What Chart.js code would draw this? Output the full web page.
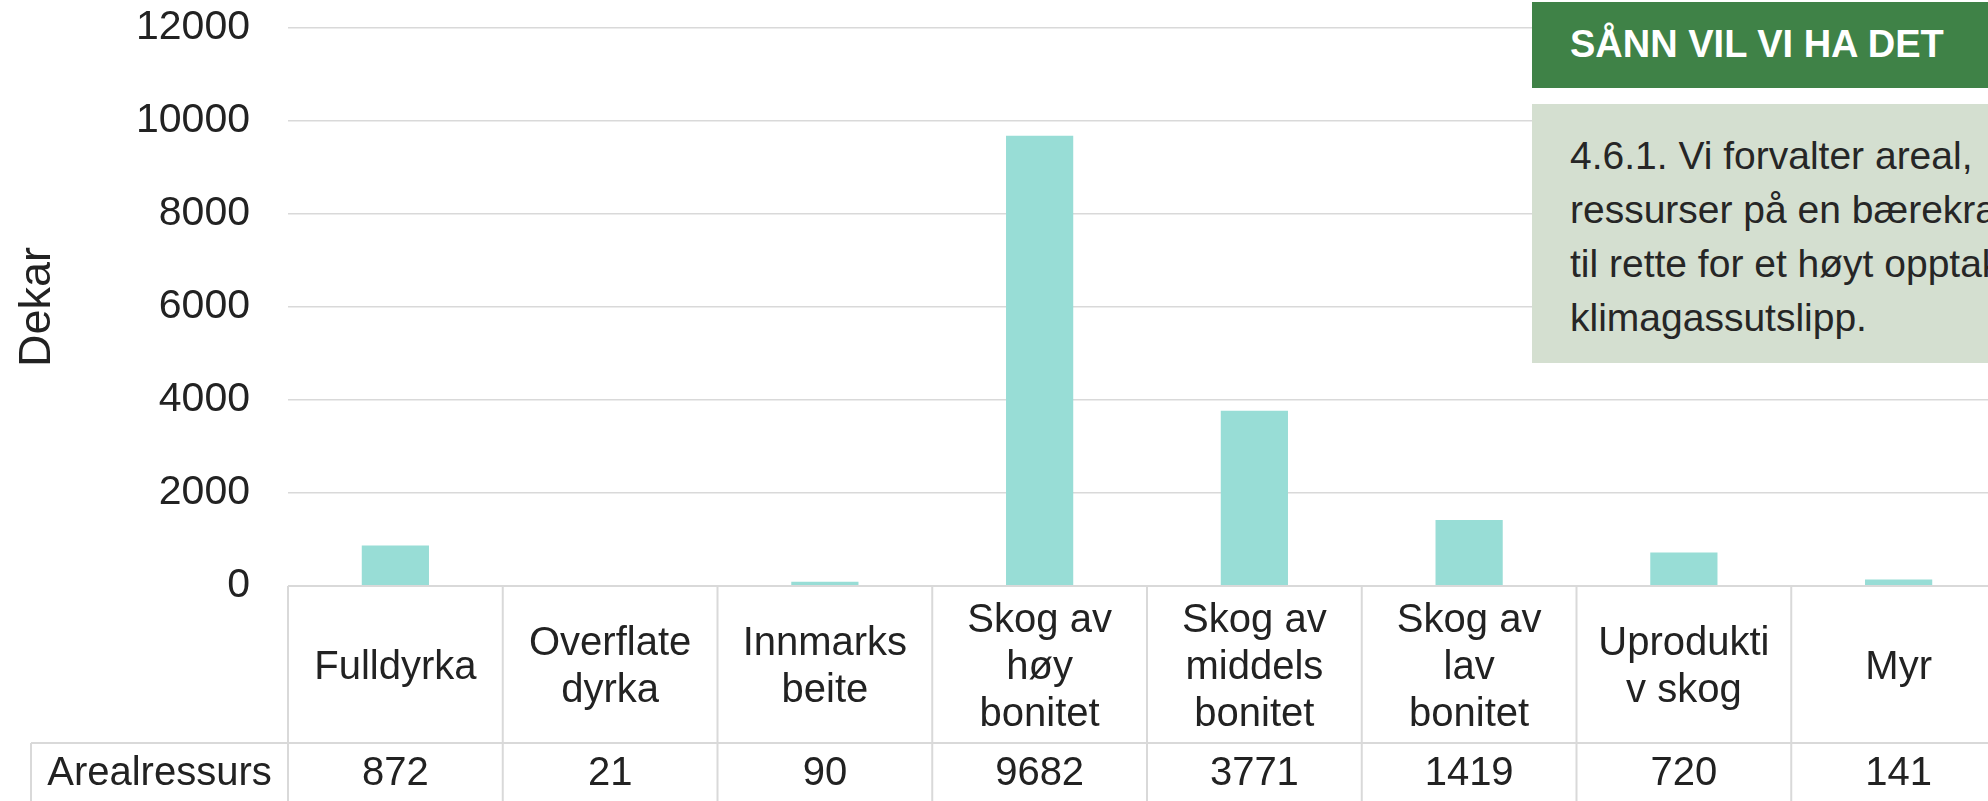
<!DOCTYPE html>
<html>
<head>
<meta charset="utf-8">
<script src="https://cdn.jsdelivr.net/npm/chart.js@4.4.1/dist/chart.umd.min.js"></script>
<style>
    html, body { margin: 0; padding: 0; background: #fff; }
    body { width: 1988px; height: 801px; overflow: hidden; position: relative; font-family: 'Liberation Sans', Arial, sans-serif; }
    #wrap { position: absolute; left: 0; top: 0; width: 2030px; height: 810px; }
    .head-box {
        position: absolute; left: 1532px; top: 2px; width: 600px; height: 86px;
        background: #3f8247; color: #fff; font-weight: bold; font-size: 38px;
        line-height: 84px; padding-left: 38px; box-sizing: border-box; white-space: nowrap;
    }
    .text-box {
        position: absolute; left: 1532px; top: 104px; width: 600px; height: 259px;
        background: #d4dfd0; color: #262626; font-size: 39px; line-height: 54px;
        padding: 25px 0 0 38px; box-sizing: border-box; white-space: nowrap; overflow: hidden;
    }
</style>
</head>
<body>
<div id="wrap"><canvas id="arealChart"></canvas></div>

<div class="head-box">SÅNN VIL VI HA DET</div>
<div class="text-box">
    <div>4.6.1. Vi forvalter areal,</div>
    <div>ressurser på en bærekraftig måte og legger</div>
    <div>til rette for et høyt opptak og lavt</div>
    <div>klimagassutslipp.</div>
</div>

<script>
// === DATA ===
const categories = [
    'Fulldyrka',
    ['Overflate', 'dyrka'],
    ['Innmarks', 'beite'],
    ['Skog av', 'høy', 'bonitet'],
    ['Skog av', 'middels', 'bonitet'],
    ['Skog av', 'lav', 'bonitet'],
    ['Uprodukti', 'v skog'],
    'Myr'
];
const seriesName = 'Arealressurs';
const arealValues = [872, 21, 90, 9682, 3771, 1419, 720, 141];
const yTicks = [0, 2000, 4000, 6000, 8000, 10000, 12000];

const FONT = "'Liberation Sans', Arial, sans-serif";
const LINE = '#d9d9d9';
const TEXT = '#222222';

// Data table under the x axis (Excel style)
const dataTable = {
    id: 'dataTable',
    afterDraw(chart) {
        const ctx = chart.ctx;
        const area = chart.chartArea;
        const x = chart.scales.x;
        const half = (x.getPixelForValue(1) - x.getPixelForValue(0)) / 2;
        const rowTop = area.bottom + 157;
        const tableLeft = 31;
        const bottom = chart.height;

        ctx.save();
        ctx.strokeStyle = LINE;
        ctx.lineWidth = 2;
        ctx.beginPath();
        // axis line / top of category row
        ctx.moveTo(area.left, area.bottom);
        ctx.lineTo(area.right, area.bottom);
        // value row line
        ctx.moveTo(tableLeft, rowTop);
        ctx.lineTo(area.right, rowTop);
        ctx.moveTo(tableLeft, rowTop);
        ctx.lineTo(tableLeft, bottom);
        // column borders
        for (let i = 0; i <= categories.length; i++) {
            const bx = x.getPixelForValue(i) - half;
            ctx.moveTo(bx, area.bottom);
            ctx.lineTo(bx, bottom);
        }
        ctx.stroke();

        ctx.fillStyle = TEXT;
        ctx.font = '40px ' + FONT;
        ctx.textAlign = 'center';
        ctx.textBaseline = 'middle';
        const textY = rowTop + 31;
        ctx.fillText(seriesName, (tableLeft + area.left) / 2, textY);
        arealValues.forEach((v, i) => {
            ctx.fillText(String(v), x.getPixelForValue(i), textY);
        });
        ctx.restore();
    }
};

document.addEventListener('DOMContentLoaded', () => {
    const ctx = document.getElementById('arealChart').getContext('2d');

    new Chart(ctx, {
        type: 'bar',
        data: {
            labels: categories,
            datasets: [{
                label: seriesName,
                data: arealValues,
                backgroundColor: '#98ddd6',
                borderWidth: 0,
                categoryPercentage: 1,
                barPercentage: 0.313
            }]
        },
        options: {
            responsive: true,
            maintainAspectRatio: false,
            animation: false,
            layout: { padding: { top: 28, left: 0, right: 24, bottom: 0 } },
            plugins: {
                legend: { display: false },
                tooltip: { enabled: false }
            },
            scales: {
                x: {
                    offset: true,
                    grid: { display: false, drawTicks: false },
                    border: { display: false },
                    ticks: {
                        color: TEXT,
                        font: { family: FONT, size: 40, lineHeight: 1.17 },
                        padding: 35,
                        maxRotation: 0,
                        autoSkip: false,
                        crossAlign: 'center'
                    },
                    afterFit(scale) { scale.height = 224; }
                },
                y: {
                    min: 0,
                    max: 12000,
                    afterBuildTicks(scale) { scale.ticks = yTicks.map(v => ({ value: v })); },
                    // invisible tick marks give the gap between labels and plot
                    grid: { color: LINE, lineWidth: 1.5, drawTicks: true, tickLength: 38, tickColor: 'rgba(0,0,0,0)' },
                    border: { display: false },
                    ticks: {
                        color: TEXT,
                        font: { family: FONT, size: 41 },
                        padding: 0,
                        callback: (value) => String(value)
                    },
                    title: {
                        display: true,
                        text: 'Dekar',
                        color: TEXT,
                        font: { family: FONT, size: 45, lineHeight: 1.2 },
                        padding: { top: 11, bottom: 0 }
                    },
                    afterFit(scale) { scale.width = 288; }
                }
            }
        },
        plugins: [dataTable]
    });
});
</script>
</body>
</html>
